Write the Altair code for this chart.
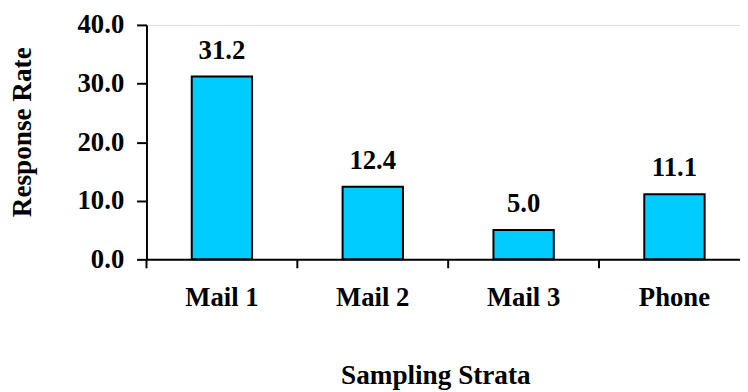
import altair as alt
import pandas as pd

categories = ["Mail 1", "Mail 2", "Mail 3", "Phone"]
rates = [31.2, 12.4, 5.0, 11.1]
y_ticks = [0, 10, 20, 30, 40]

df = pd.DataFrame({"stratum": categories, "rate": rates})

FONT = "Liberation Serif"
FS = 27
TFS = 27.5

xscale = alt.Scale(domain=categories, range=[0, 610], paddingInner=0, paddingOuter=0)
yscale = alt.Scale(domain=[0, 40], nice=False)

xaxis = alt.Axis(
    title="Sampling Strata",
    labelAngle=0,
    ticks=False,
    tickSize=0,
    labelPadding=46.7,
    labelBaseline="alphabetic",
    labelFont=FONT,
    labelFontSize=FS,
    labelFontWeight="bold",
    labelColor="black",
    domainColor="black",
    domainWidth=2,
    grid=False,
    titleFont=FONT,
    titleFontSize=TFS,
    titleFontWeight="bold",
    titleColor="black",
    titleX=292,
    titleY=126,
    titleAlign="center",
    titleBaseline="alphabetic",
)

yaxis = alt.Axis(
    title="Response Rate",
    values=y_ticks,
    format=".1f",
    tickSize=10,
    tickWidth=2,
    tickColor="black",
    domainColor="black",
    domainWidth=2,
    labelPadding=13,
    labelFont=FONT,
    labelFontSize=FS,
    labelFontWeight="bold",
    labelColor="black",
    grid=False,
    titleFont=FONT,
    titleFontSize=TFS,
    titleFontWeight="bold",
    titleColor="black",
    titleAngle=270,
    titleX=-117,
    titleY=108,
    titleAlign="center",
    titleBaseline="alphabetic",
)

X = alt.X("stratum:N", sort=categories, scale=xscale, axis=xaxis)
Y = alt.Y("rate:Q", scale=yscale, axis=yaxis)

base = alt.Chart(df).encode(x=X, y=Y)

bars = base.mark_bar(
    fill="#00CCFF", stroke="black", strokeWidth=2, width=alt.RelativeBandSize(0.4)
)

labels = base.mark_text(
    dy=-18, baseline="alphabetic", align="center",
    font=FONT, fontSize=FS, fontWeight="bold", color="black"
).encode(text=alt.Text("rate:Q", format=".1f"))

ticks = base.mark_rule(color="black", strokeWidth=2).encode(
    x=alt.X("stratum:N", sort=categories, scale=xscale, axis=xaxis, bandPosition=0),
    y=alt.value(237),
    y2=alt.value(246),
)

chart = alt.layer(bars, ticks, labels).properties(
    width=600,
    height=237,
    autosize=alt.AutoSizeParams(type="none"),
    padding={"left": 140, "top": 15, "right": 0, "bottom": 132},
    background="white",
).configure_view(stroke=None).configure(font=FONT)

chart.save("out.html", embed_options={"renderer": "svg", "actions": False})
